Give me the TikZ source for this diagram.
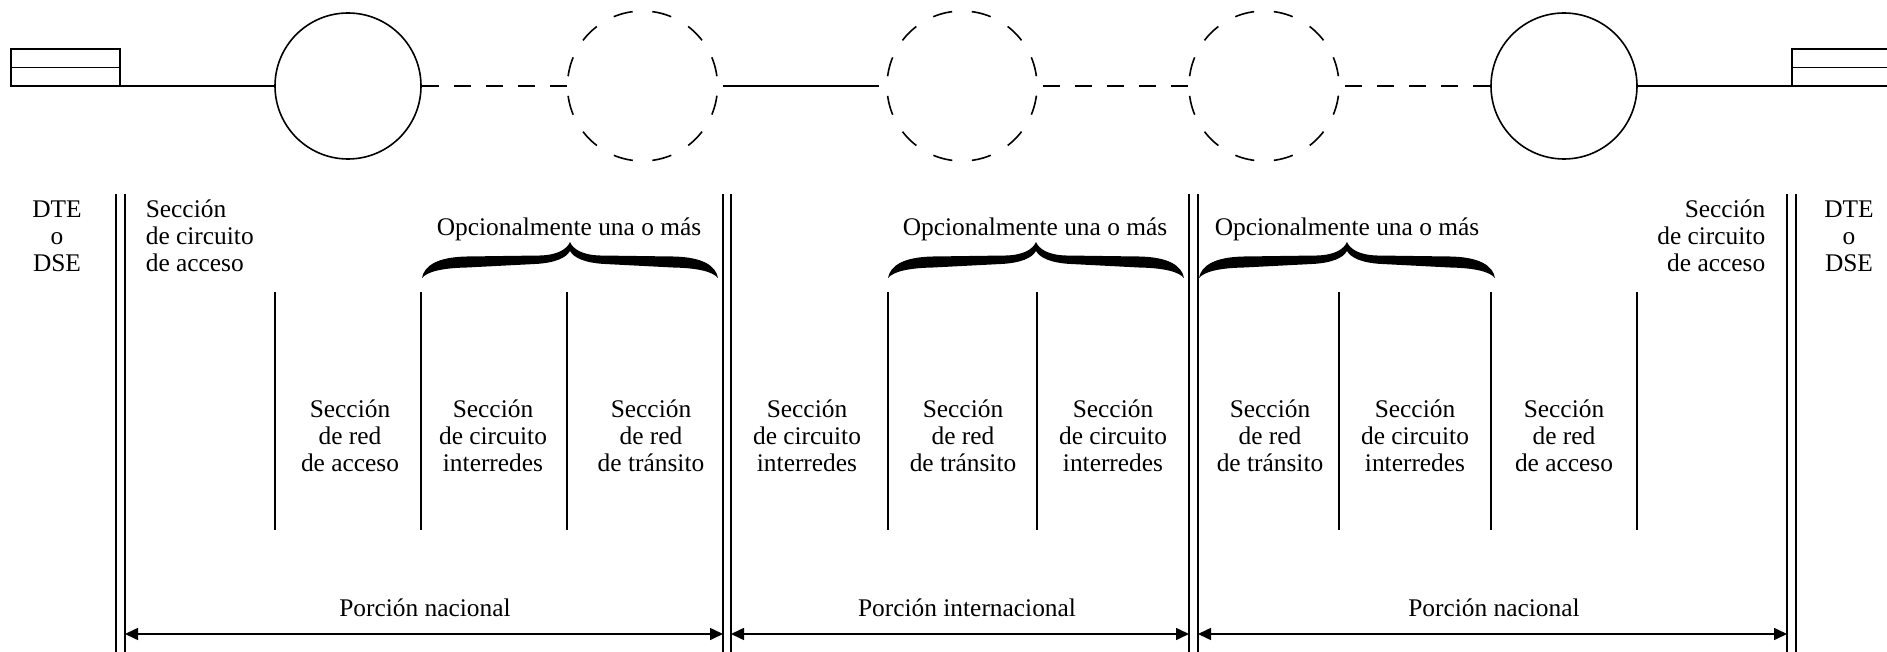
\documentclass[tikz,border=0pt]{standalone}
\usepackage{fontspec}
\setmainfont{Liberation Serif}
\usetikzlibrary{arrows.meta}
\begin{document}
\begin{tikzpicture}[x=0.5pt,y=-0.5pt, line width=0.8pt,
  txt/.style={inner sep=0pt, font=\fontsize{12.7pt}{13.5pt}\selectfont},
  solidc/.style={circle, draw, minimum size=73pt, inner sep=0pt},
  dashc/.style={circle, draw, minimum size=75pt, inner sep=0pt, dash pattern=on 9.82pt off 9.82pt, dash phase=14.73pt},
  dline/.style={dash pattern=on 8.5pt off 7.5pt},
  dim/.style={{Triangle[length=6.5pt,width=6pt]}-{Triangle[length=6.5pt,width=6pt]}},
  obrace/.pic={
    \fill (0,0) .. controls (2,-12) and (15,-21) .. (45,-21.5) -- (118,-22.5)
      .. controls (136,-23) and (145,-29) .. (148,-36)
      .. controls (151,-29) and (160,-23) .. (178,-22.5) -- (251,-21.5)
      .. controls (281,-21) and (294,-12) .. (296,0)
      .. controls (291,-6) and (277,-10) .. (251,-10.5) -- (183,-14)
      .. controls (163,-15) and (152,-20) .. (148,-27)
      .. controls (144,-20) and (133,-15) .. (113,-14) -- (45,-10.5)
      .. controls (19,-10) and (5,-6) .. (0,0) -- cycle;
  }
]
\useasboundingbox (0,0) rectangle (1887,652);

% terminal boxes
\node[draw, minimum width=54.5pt, minimum height=18.5pt, inner sep=0pt, outer sep=0pt] (boxL) at (65.5,67.5) {};
\draw (boxL.west) -- (boxL.east);
\coordinate (boxR) at (1792,86);
\draw (1887,49) -- (1792,49) -- (boxR) -- (1887,86);
\draw (1792,67.5) -- (1887,67.5);

% circles
\node[solidc] (c1) at (348,86) {};
\node[dashc] (d1) at (642.5,86) {};
\node[dashc] (d2) at (962,86) {};
\node[dashc] (d3) at (1264,86) {};
\node[solidc] (c4) at (1564,86) {};

% connectors
\draw (boxL.south east) -- (c1.west);
\draw[dline] (d1.west) -- (c1.east);
\draw[shorten <=2.5pt, shorten >=3.5pt] (d1.east) -- (d2.west);
\draw[dline] (d3.west) -- (d2.east);
\draw[dline] (c4.west) -- (d3.east);
\draw (c4.east) -- (boxR);

% double separators
\foreach \a/\b in {116/125, 723/731, 1189/1198, 1787/1796} {
  \draw (\a,194) -- (\a,652);
  \draw (\b,194) -- (\b,652);
}
% single separators
\foreach \x in {275,421,567,888,1037,1339,1491,1637}
  \draw (\x,292) -- (\x,530);

% top texts
\node[txt, align=center, anchor=north] (dteL) at (57,200) {DTE\\o\\DSE};
\node[txt, align=left, anchor=north west] (acL) at (145,199) {Sección\\de circuito\\de acceso};
\node[txt, align=right, anchor=north east] (acR) at (1766,199) {Sección\\de circuito\\de acceso};
\node[txt, align=center, anchor=north] (dteR) at (1849,200) {DTE\\o\\DSE};

\node[txt, anchor=base] (op1) at (569,236) {Opcionalmente una o más};
\node[txt, anchor=base] (op2) at (1035,236) {Opcionalmente una o más};
\node[txt, anchor=base] (op3) at (1347,236) {Opcionalmente una o más};
\pic at (422,278) {obrace};
\pic at (888,278) {obrace};
\pic at (1199,278) {obrace};

% section texts
\node[txt, align=center, anchor=north] (s1) at (350,399) {Sección\\de red\\de acceso};
\node[txt, align=center, anchor=north] (s2) at (493,399) {Sección\\de circuito\\interredes};
\node[txt, align=center, anchor=north] (s3) at (651,399) {Sección\\de red\\de tránsito};
\node[txt, align=center, anchor=north] (s4) at (807,399) {Sección\\de circuito\\interredes};
\node[txt, align=center, anchor=north] (s5) at (963,399) {Sección\\de red\\de tránsito};
\node[txt, align=center, anchor=north] (s6) at (1113,399) {Sección\\de circuito\\interredes};
\node[txt, align=center, anchor=north] (s7) at (1270,399) {Sección\\de red\\de tránsito};
\node[txt, align=center, anchor=north] (s8) at (1415,399) {Sección\\de circuito\\interredes};
\node[txt, align=center, anchor=north] (s9) at (1564,399) {Sección\\de red\\de acceso};

% dimension arrows
\coordinate (a1) at (125,634);
\coordinate (a2) at (723,634);
\coordinate (a3) at (731,634);
\coordinate (a4) at (1189,634);
\coordinate (a5) at (1198,634);
\coordinate (a6) at (1787,634);
\draw[dim] (a1) -- (a2);
\draw[dim] (a3) -- (a4);
\draw[dim] (a5) -- (a6);
\node[txt, anchor=base] (p1) at (425,617) {Porción nacional};
\node[txt, anchor=base] (p2) at (967,617) {Porción internacional};
\node[txt, anchor=base] (p3) at (1494,617) {Porción nacional};
\end{tikzpicture}
\end{document}
